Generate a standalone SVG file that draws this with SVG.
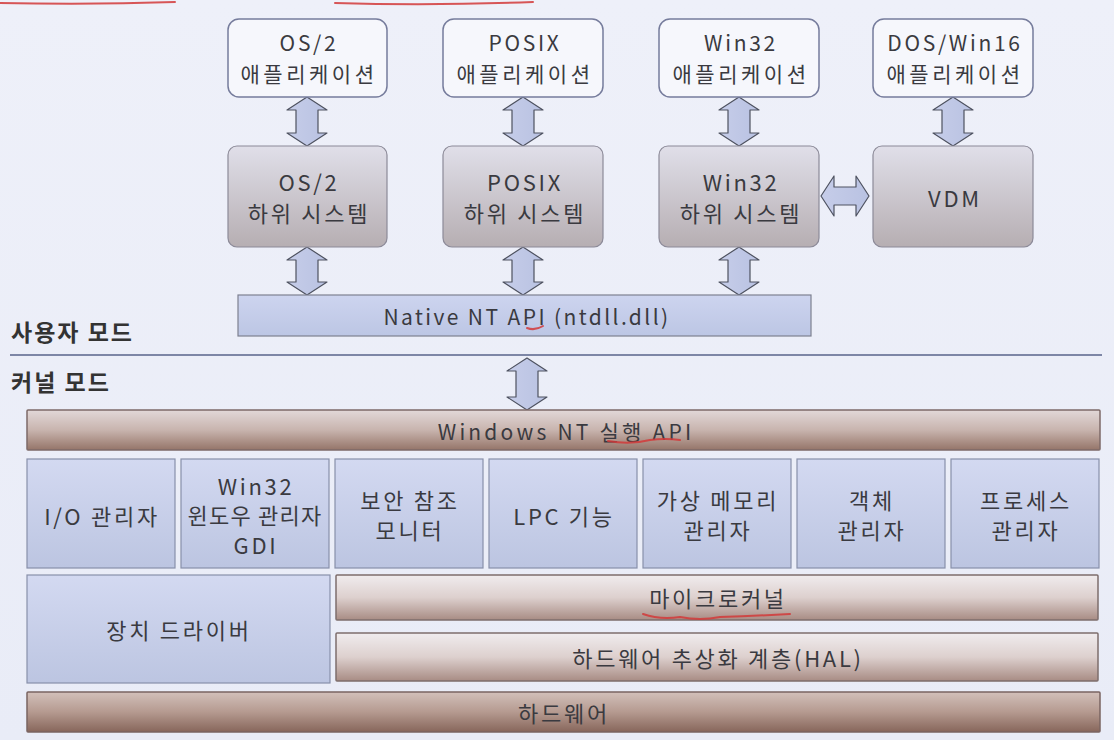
<svg xmlns="http://www.w3.org/2000/svg" width="1114" height="740" viewBox="0 0 1114 740">
<defs>
<linearGradient id="gBg" x1="0" y1="0" x2="0" y2="1"><stop offset="0" stop-color="#eef0f9"/><stop offset="1" stop-color="#e9ecf7"/></linearGradient>
<linearGradient id="gSub" x1="0" y1="0" x2="0" y2="1"><stop offset="0" stop-color="#e0dfe9"/><stop offset="1" stop-color="#b6aeb2"/></linearGradient>
<linearGradient id="gBlue" x1="0" y1="0" x2="0" y2="1"><stop offset="0" stop-color="#d3d9f1"/><stop offset="1" stop-color="#bcc5e1"/></linearGradient>
<linearGradient id="gNative" x1="0" y1="0" x2="0" y2="1"><stop offset="0" stop-color="#cdd4ef"/><stop offset="1" stop-color="#bcc6e4"/></linearGradient>
<linearGradient id="gBrown" x1="0" y1="0" x2="0" y2="1"><stop offset="0" stop-color="#e2d8d8"/><stop offset="0.5" stop-color="#c8b4ae"/><stop offset="1" stop-color="#957569"/></linearGradient>
<linearGradient id="gBrownL" x1="0" y1="0" x2="0" y2="1"><stop offset="0" stop-color="#f0ecee"/><stop offset="0.5" stop-color="#ddd0ce"/><stop offset="1" stop-color="#a88c84"/></linearGradient>
<linearGradient id="gHw" x1="0" y1="0" x2="0" y2="1"><stop offset="0" stop-color="#d2c0ba"/><stop offset="0.5" stop-color="#b59a90"/><stop offset="1" stop-color="#87665b"/></linearGradient>
<linearGradient id="gArrow" x1="0" y1="0" x2="1" y2="0"><stop offset="0" stop-color="#c6cde9"/><stop offset="1" stop-color="#b9c2e2"/></linearGradient>
</defs>
<style>
.t{font-family:"Noto Sans CJK KR","Noto Sans",sans-serif;font-size:22px;fill:#3a3a40;text-anchor:middle;dominant-baseline:central;letter-spacing:2.7px}
.s{font-size:21px}
.a{letter-spacing:3.5px}
.lbl{font-family:"Noto Sans CJK KR","Noto Sans",sans-serif;font-size:23px;font-weight:bold;fill:#333;dominant-baseline:central;letter-spacing:2px}
.app{fill:#f6f7fc;stroke:#767c9c;stroke-width:1.5}
.sub{fill:url(#gSub);stroke:#8c8a98;stroke-width:1.2}
.blue{fill:url(#gBlue);stroke:#8890aa;stroke-width:1.2}
.nat{fill:url(#gNative);stroke:#7d8090;stroke-width:1.2}
.br{fill:url(#gBrown);stroke:#7e6a68;stroke-width:1.5}
.brl{fill:url(#gBrownL);stroke:#7e6e6c;stroke-width:1.5}
.hw{fill:url(#gHw);stroke:#7a6462;stroke-width:1.5}
.arr{fill:url(#gArrow);stroke:#4e5260;stroke-width:1.2;stroke-linejoin:round}
.red{fill:none;stroke:#d23a3a;stroke-width:2;stroke-linecap:round;opacity:0.85}
</style>
<rect x="0" y="0" width="1114" height="740" fill="url(#gBg)"/>

<g id="mode-labels">
<text class="lbl" x="11" y="331">사용자 모드</text>
<line x1="10" y1="355" x2="1102" y2="355" stroke="#7d86a6" stroke-width="2"/>
<text class="lbl" x="11" y="381">커널 모드</text>
</g>

<g id="connectors">
<path class="arr" d="M307 97 L327 110 L318 110 L318 133 L327 133 L307 146 L287 133 L296 133 L296 110 L287 110 Z"/>
<path class="arr" d="M523 97 L543 110 L534 110 L534 133 L543 133 L523 146 L503 133 L512 133 L512 110 L503 110 Z"/>
<path class="arr" d="M739 97 L759 110 L750 110 L750 133 L759 133 L739 146 L719 133 L728 133 L728 110 L719 110 Z"/>
<path class="arr" d="M953 97 L973 110 L964 110 L964 133 L973 133 L953 146 L933 133 L942 133 L942 110 L933 110 Z"/>
<path class="arr" d="M307 247 L327 260 L318 260 L318 282 L327 282 L307 295 L287 282 L296 282 L296 260 L287 260 Z"/>
<path class="arr" d="M523 247 L543 260 L534 260 L534 282 L543 282 L523 295 L503 282 L512 282 L512 260 L503 260 Z"/>
<path class="arr" d="M739 247 L759 260 L750 260 L750 282 L759 282 L739 295 L719 282 L728 282 L728 260 L719 260 Z"/>
<path class="arr" d="M527 358 L547 371 L538 371 L538 397 L547 397 L527 410 L507 397 L516 397 L516 371 L507 371 Z"/>
<path class="arr" d="M821 196 L834 176 L834 187 L856 187 L856 176 L869 196 L856 216 L856 205 L834 205 L834 216 Z"/>
</g>

<g id="app-os2"><rect class="app" x="228" y="19" width="159" height="78" rx="11"/><text class="t s" x="309" y="42">OS/2</text><text class="t s a" x="309" y="73">애플리케이션</text></g>
<g id="app-posix"><rect class="app" x="443" y="19" width="160" height="78" rx="11"/><text class="t s" x="525" y="42">POSIX</text><text class="t s a" x="525" y="73">애플리케이션</text></g>
<g id="app-win32"><rect class="app" x="659" y="19" width="160" height="78" rx="11"/><text class="t s" x="741" y="42">Win32</text><text class="t s a" x="741" y="73">애플리케이션</text></g>
<g id="app-dos"><rect class="app" x="873" y="19" width="160" height="78" rx="11"/><text class="t s" x="955" y="42">DOS/Win16</text><text class="t s a" x="955" y="73">애플리케이션</text></g>

<g id="sub-os2"><rect class="sub" x="228" y="146" width="159" height="101" rx="9"/><text class="t" x="309" y="181">OS/2</text><text class="t" x="309" y="212">하위 시스템</text></g>
<g id="sub-posix"><rect class="sub" x="443" y="146" width="160" height="101" rx="9"/><text class="t" x="525" y="181">POSIX</text><text class="t" x="525" y="212">하위 시스템</text></g>
<g id="sub-win32"><rect class="sub" x="659" y="146" width="160" height="101" rx="9"/><text class="t" x="741" y="181">Win32</text><text class="t" x="741" y="212">하위 시스템</text></g>
<g id="vdm"><rect class="sub" x="873" y="146" width="160" height="101" rx="9"/><text class="t" x="955" y="197">VDM</text></g>

<g id="native-api"><rect class="nat" x="238" y="295" width="573" height="41"/><text class="t s" x="527" y="316" style="letter-spacing:2.4px">Native NT API (ntdll.dll)</text></g>

<g id="nt-exec-api"><rect class="br" x="27" y="410" width="1073" height="40" rx="1"/><text class="t s" x="566" y="431" style="letter-spacing:3.2px">Windows NT 실행 API</text></g>

<g id="io-mgr"><rect class="blue" x="27" y="459" width="148" height="109"/><text class="t" x="102" y="515">I/O 관리자</text></g>
<g id="win32-mgr"><rect class="blue" x="181" y="459" width="148" height="109"/><text class="t" x="256" y="485">Win32</text><text class="t" x="255" y="514" style="letter-spacing:1.2px">윈도우 관리자</text><text class="t" x="256" y="544">GDI</text></g>
<g id="srm"><rect class="blue" x="335" y="459" width="148" height="109"/><text class="t" x="410" y="499">보안 참조</text><text class="t" x="410" y="529">모니터</text></g>
<g id="lpc"><rect class="blue" x="489" y="459" width="148" height="109"/><text class="t" x="564" y="515">LPC 기능</text></g>
<g id="vmm"><rect class="blue" x="643" y="459" width="148" height="109"/><text class="t" x="718" y="499">가상 메모리</text><text class="t" x="718" y="529">관리자</text></g>
<g id="obj-mgr"><rect class="blue" x="797" y="459" width="148" height="109"/><text class="t" x="872" y="499">객체</text><text class="t" x="872" y="529">관리자</text></g>
<g id="proc-mgr"><rect class="blue" x="951" y="459" width="148" height="109"/><text class="t" x="1026" y="499">프로세스</text><text class="t" x="1026" y="529">관리자</text></g>

<g id="device-drivers"><rect class="blue" x="27" y="575" width="303" height="108"/><text class="t" x="179" y="629">장치 드라이버</text></g>
<g id="microkernel"><rect class="brl" x="336" y="575" width="762" height="45" rx="1"/><text class="t" x="718" y="597">마이크로커널</text></g>
<g id="hal"><rect class="brl" x="336" y="633" width="762" height="48" rx="1"/><text class="t" x="718" y="657">하드웨어 추상화 계층(HAL)</text></g>
<g id="hardware"><rect class="hw" x="27" y="692" width="1073" height="40" rx="1"/><text class="t" x="564" y="712">하드웨어</text></g>

<g id="annotations">
<path class="red" d="M0 3 Q90 5 175 2"/>
<path class="red" d="M335 3 Q430 6 533 2"/>
<path class="red" d="M527 328 Q535 331 543 326"/>
<path class="red" d="M608 441 Q630 445 650 440 Q665 438 680 440"/>
<path class="red" d="M643 614 Q660 620 680 617 Q700 621 720 617 Q755 616 790 614"/>
</g>
</svg>
